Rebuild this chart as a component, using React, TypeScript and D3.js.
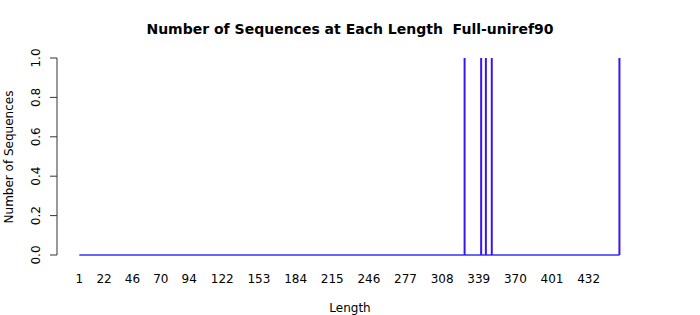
import React from "react";
import * as d3 from "d3";

const minLength = 1;
const maxLength = 458;
const seqLengths = [327, 341, 345, 350, 458];
const seqCounts = [1, 1, 1, 1, 1];
const xTickLabels = [1, 22, 46, 70, 94, 122, 153, 184, 215, 246, 277, 308, 339, 370, 401, 432];
const yTicks = [0, 0.2, 0.4, 0.6, 0.8, 1.0];

const W = 700;
const H = 315;

export default function App() {
  const x = d3.scaleLinear().domain([minLength, 432]).range([79.3, 588.7]);
  const y = d3.scaleLinear().domain([0, 1]).range([255, 58]);
  const font = "DejaVu Sans, sans-serif";
  const barColor = "#3a16ee";
  const axisX = 57;
  return (
    <svg width={W} height={H} style={{ position: "absolute", left: 0, top: 0, background: "#fff" }} fontFamily={font}>
      <text x={350} y={34} textAnchor="middle" fontSize={14} fontWeight="bold" style={{ whiteSpace: "pre" }}>
        {"Number of Sequences at Each Length  Full-uniref90"}
      </text>
      <line x1={x(minLength)} x2={x(maxLength)} y1={y(0)} y2={y(0)} stroke="#3535f5" strokeWidth={1.5} />
      {seqLengths.map((l, i) => (
        <line key={l} x1={x(l)} x2={x(l)} y1={y(0)} y2={y(seqCounts[i])} stroke={barColor} strokeWidth={2} />
      ))}
      <line x1={axisX} x2={axisX} y1={y(0)} y2={y(1)} stroke="#333" strokeWidth={1} />
      {yTicks.map((t) => (
        <g key={t}>
          <line x1={axisX - 7} x2={axisX} y1={y(t)} y2={y(t)} stroke="#333" strokeWidth={1} />
          <text
            transform={`translate(${40},${y(t)}) rotate(-90)`}
            textAnchor="middle"
            fontSize={12}
          >
            {t.toFixed(1)}
          </text>
        </g>
      ))}
      {xTickLabels.map((t) => (
        <text key={t} x={x(t)} y={283} textAnchor="middle" fontSize={12}>
          {t}
        </text>
      ))}
      <text x={350} y={312} textAnchor="middle" fontSize={12}>
        Length
      </text>
      <text transform={`translate(13,157) rotate(-90)`} textAnchor="middle" fontSize={12}>
        Number of Sequences
      </text>
    </svg>
  );
}
